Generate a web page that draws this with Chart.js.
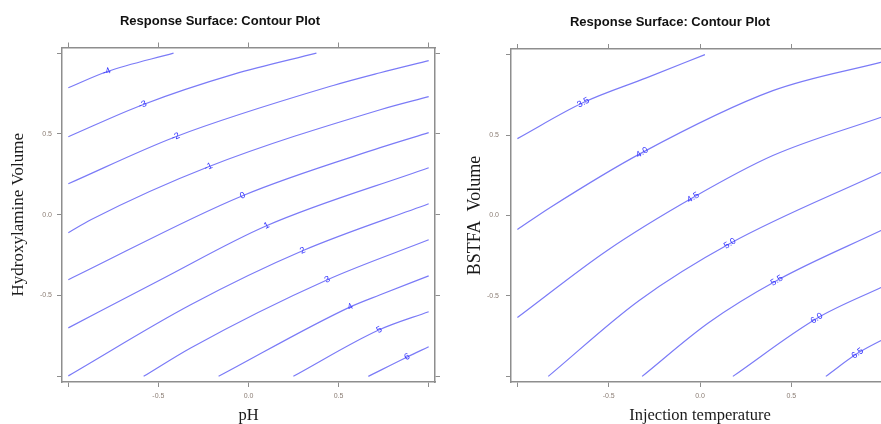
<!DOCTYPE html>
<html>
<head>
<meta charset="utf-8">
<script src="https://cdn.jsdelivr.net/npm/chart.js@4.4.1/dist/chart.umd.min.js"></script>
<style>
  html, body { margin: 0; padding: 0; background: #fff; }
  #wrap { position: relative; width: 881px; height: 424px; overflow: hidden; }
  #left { position: absolute; left: 0; top: 0; }
  #right { position: absolute; left: 440px; top: 0; }
</style>
</head>
<body>
<div id="wrap">
  <canvas id="left" width="440" height="424"></canvas>
  <canvas id="right" width="460" height="424"></canvas>
</div>
<script>
// ticks shared by both panels
const tickValues = [-1, -0.5, 0, 0.5, 1];
const labelledTicks = [-0.5, 0, 0.5];

// left panel: pH x Hydroxylamine Volume
const phLevels = ["-4", "-3", "-2", "-1", "0", "1", "2", "3", "4", "5", "6"];
const phLines = [
  [[-1, 0.786], [-0.787, 0.885], [-0.416, 1.0]],
  [[-1, 0.483], [-0.587, 0.681], [-0.08, 0.87], [0.377, 1.0]],
  [[-1, 0.192], [-0.404, 0.483], [0.47, 0.80], [0.731, 0.879], [1, 0.954]],
  [[-1, -0.111], [-0.875, -0.031], [-0.222, 0.297], [0.731, 0.65], [1, 0.731]],
  [[-1, -0.402], [-0.033, 0.118], [0.731, 0.415], [1, 0.508]],
  [[-1, -0.7], [-0.488, -0.402], [0.1, -0.068], [1, 0.291]],
  [[-1, -0.997], [-0.321, -0.557], [0.3, -0.223], [1, 0.068]],
  [[-0.582, -1], [-0.321, -0.824], [0.438, -0.402], [1, -0.155]],
  [[-0.166, -1], [0.565, -0.57], [0.731, -0.495], [1, -0.378]],
  [[0.249, -1], [0.726, -0.712], [1, -0.6]],
  [[0.665, -1], [0.881, -0.88], [1, -0.817]]
];
const phLabelAt = [
  [-0.787, 0.885], [-0.587, 0.681], [-0.404, 0.483], [-0.222, 0.297],
  [-0.033, 0.118], [0.1, -0.068], [0.3, -0.223], [0.438, -0.402],
  [0.565, -0.57], [0.726, -0.712], [0.881, -0.88]
];

// right panel: Injection temperature x BSTFA Volume
const injLevels = ["3.5", "4.0", "4.5", "5.0", "5.5", "6.0", "6.5"];
const injLines = [
  [[-1, 0.478], [-0.639, 0.702], [-0.29, 0.857], [0.027, 1.0]],
  [[-1, -0.087], [-0.82, 0.05], [-0.317, 0.391], [0.399, 0.776], [1, 0.955]],
  [[-1, -0.634], [-0.508, -0.217], [-0.038, 0.112], [0.399, 0.373], [1, 0.614]],
  [[-0.831, -1], [-0.333, -0.528], [0.164, -0.174], [1, 0.272]],
  [[-0.317, -1], [0.049, -0.665], [0.421, -0.404], [1, -0.089]],
  [[0.18, -1], [0.639, -0.64], [1, -0.443]],
  [[0.689, -1], [0.863, -0.857], [1, -0.772]]
];
const injLabelAt = [
  [-0.639, 0.702], [-0.317, 0.391], [-0.038, 0.112], [0.164, -0.174],
  [0.421, -0.404], [0.639, -0.64], [0.863, -0.857]
];

// writes the level numbers along each contour
const contourLabels = {
  id: 'contourLabels',
  afterDatasetsDraw(chart, args, opts) {
    const ctx = chart.ctx;
    const sx = chart.scales.x, sy = chart.scales.y;
    ctx.save();
    ctx.font = opts.font;
    ctx.fillStyle = opts.color;
    ctx.textAlign = 'center';
    ctx.textBaseline = 'middle';
    opts.at.forEach((p, i) => {
      const px = sx.getPixelForValue(p[0]);
      const py = sy.getPixelForValue(p[1]);
      const pts = chart.getDatasetMeta(i).data;
      let k = 1;
      while (k < pts.length - 1 && pts[k].x < px) k++;
      const ang = Math.atan2(pts[k].y - pts[k - 1].y, pts[k].x - pts[k - 1].x);
      ctx.save();
      ctx.translate(px, py);
      ctx.rotate(ang);
      ctx.fillText(opts.text[i], 0, 0);
      ctx.restore();
    });
    ctx.restore();
  }
};

const tickFont = { family: 'Liberation Sans', size: 7 };
const tickColor = '#8b7d74';
const boxColor = '#8e8e8e';

function axis(pos, size, title, extra) {
  const horiz = pos === 'bottom' || pos === 'top';
  const s = {
    type: 'linear',
    position: pos,
    min: -1.035,
    max: 1.035,
    afterBuildTicks: (sc) => { sc.ticks = tickValues.map(v => ({ value: v })); },
    afterFit: (sc) => { if (horiz) sc.height = size; else sc.width = size; },
    grid: { drawOnChartArea: false, drawTicks: true, tickLength: 5, color: boxColor, lineWidth: 1 },
    border: { display: true, color: boxColor, width: 1.5 },
    ticks: {
      font: tickFont,
      color: tickColor,
      padding: 5,
      maxRotation: 0,
      callback: (v) => (title && labelledTicks.includes(v)) ? v.toFixed(1) : ''
    }
  };
  if (title) {
    s.title = {
      display: true,
      text: title,
      color: '#1a1a1a',
      font: { family: 'Liberation Serif', size: extra.size, lineHeight: 1 },
      padding: extra.pad
    };
  }
  if (extra && extra.tickPad) s.ticks.padding = extra.tickPad;
  return s;
}

function makePanel(canvasId, levels, lines, labelAt, o) {
  const datasets = lines.map((ln, i) => ({
    label: levels[i],
    data: ln.map(p => ({ x: p[0], y: p[1] })),
    showLine: true,
    borderColor: '#7b7bf7',
    borderWidth: 1.2,
    pointRadius: 0,
    cubicInterpolationMode: 'monotone',
    xAxisID: 'x',
    yAxisID: 'y'
  }));
  return new Chart(document.getElementById(canvasId), {
    type: 'scatter',
    data: { datasets: datasets },
    plugins: [contourLabels],
    options: {
      responsive: false,
      animation: false,
      layout: { padding: 0, autoPadding: false },
      scales: {
        x: axis('bottom', 42, o.xTitle, { size: 16.5, pad: { top: 0, bottom: 0 } }),
        x2: axis('top', 5),
        y: axis('left', o.left, o.yTitle, { size: o.ySize, pad: { top: o.yPad, bottom: 0 }, tickPad: o.tickPad }),
        y2: axis('right', o.right)
      },
      plugins: {
        legend: { display: false },
        tooltip: { enabled: false },
        title: {
          display: true,
          text: 'Response Surface: Contour Plot',
          color: '#111',
          font: { family: 'Liberation Sans', size: 13, weight: 'bold', lineHeight: 1.2 },
          padding: { top: o.titleTop, bottom: o.titleBottom }
        },
        contourLabels: {
          at: labelAt,
          text: levels,
          font: '9px "Liberation Sans"',
          color: '#3434ff'
        }
      }
    }
  });
}

makePanel('left', phLevels, phLines, phLabelAt, {
  xTitle: 'pH', yTitle: 'Hydroxylamine Volume', ySize: 17, yPad: 10,
  left: 62, right: 5, titleTop: 14, titleBottom: 12.9, tickPad: 5
});

makePanel('right', injLevels, injLines, injLabelAt, {
  xTitle: 'Injection temperature', yTitle: 'BSTFA  Volume', ySize: 18, yPad: 26,
  left: 71, right: 11, titleTop: 15, titleBottom: 13.4, tickPad: 7
});
</script>
</body>
</html>
